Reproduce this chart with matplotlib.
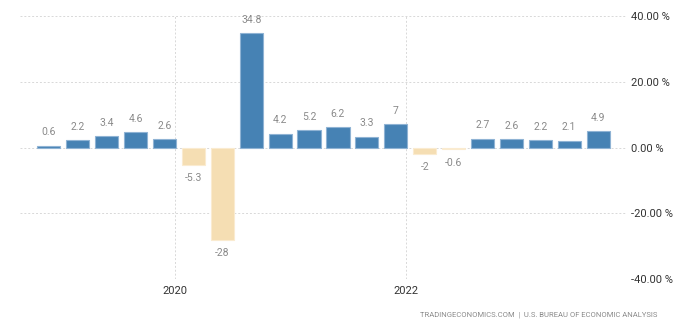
import matplotlib
matplotlib.use("Agg")
import matplotlib.pyplot as plt
from matplotlib import font_manager

quarters = ["2018Q4", "2019Q1", "2019Q2", "2019Q3", "2019Q4",
            "2020Q1", "2020Q2", "2020Q3", "2020Q4",
            "2021Q1", "2021Q2", "2021Q3", "2021Q4",
            "2022Q1", "2022Q2", "2022Q3", "2022Q4",
            "2023Q1", "2023Q2", "2023Q3"]
values = [0.6, 2.2, 3.4, 4.6, 2.6, -5.3, -28, 34.8, 4.2, 5.2, 6.2, 3.3, 7,
          -2, -0.6, 2.7, 2.6, 2.2, 2.1, 4.9]
labels = ["0.6", "2.2", "3.4", "4.6", "2.6", "-5.3", "-28", "34.8", "4.2", "5.2",
          "6.2", "3.3", "7", "-2", "-0.6", "2.7", "2.6", "2.2", "2.1", "4.9"]
year_ticks = ["2020", "2022"]
y_ticks = [-40, -20, 0, 20, 40]
source = "TRADINGECONOMICS.COM  |  U.S. BUREAU OF ECONOMIC ANALYSIS"

avail = {f.name for f in font_manager.fontManager.ttflist}
fam = [f for f in ["Liberation Sans Narrow", "Roboto", "DejaVu Sans"] if f in avail]
plt.rcParams["font.family"] = fam

fig = plt.figure(figsize=(7.0, 3.29), dpi=100)
ax = fig.add_axes([20 / 700, 1 - 279 / 329, 607 / 700, 263 / 329])

x = list(range(len(values)))
colors = ["#4682B4" if v >= 0 else "#F5DEB3" for v in values]
edges = ["#8FB3D4" if v >= 0 else "#FAEBD0" for v in values]
ax.bar(x, values, width=0.8, color=colors, edgecolor=edges, linewidth=0.8, zorder=3)

for xi, v, lab in zip(x, values, labels):
    if v >= 0:
        ax.annotate(lab, (xi, v), xytext=(0, 6), textcoords="offset points",
                    ha="center", va="bottom", fontsize=7.5, color="#8a8a8a")
    else:
        ax.annotate(lab, (xi, v), xytext=(0, -6), textcoords="offset points",
                    ha="center", va="top", fontsize=7.5, color="#8a8a8a")

# year ticks placed at the boundary after each Q4 bar
tick_pos = [quarters.index(str(int(y) - 1) + "Q4") + 0.35 for y in year_ticks]
ax.set_xticks(tick_pos)
ax.set_xticklabels(year_ticks, fontsize=8, color="#333333")
ax.set_xlim(-1.0, 20.0)
ax.set_ylim(-40, 40)
ax.set_yticks(y_ticks)
ax.set_yticklabels([f"{t:.2f} %" for t in y_ticks], fontsize=8, color="#333333")
ax.yaxis.tick_right()
ax.tick_params(axis="both", length=0, pad=3)
ax.tick_params(axis="x", pad=5)
ax.grid(True, color="#d8d8d8", linestyle=(0, (2, 2)), linewidth=0.7, zorder=0)
for s in ax.spines.values():
    s.set_visible(False)

fig.text(657 / 700, 1 - 315 / 329, source, ha="right", va="center",
         fontsize=5.5, color="#8a8a8a")

fig.savefig("out.png", dpi=100)
